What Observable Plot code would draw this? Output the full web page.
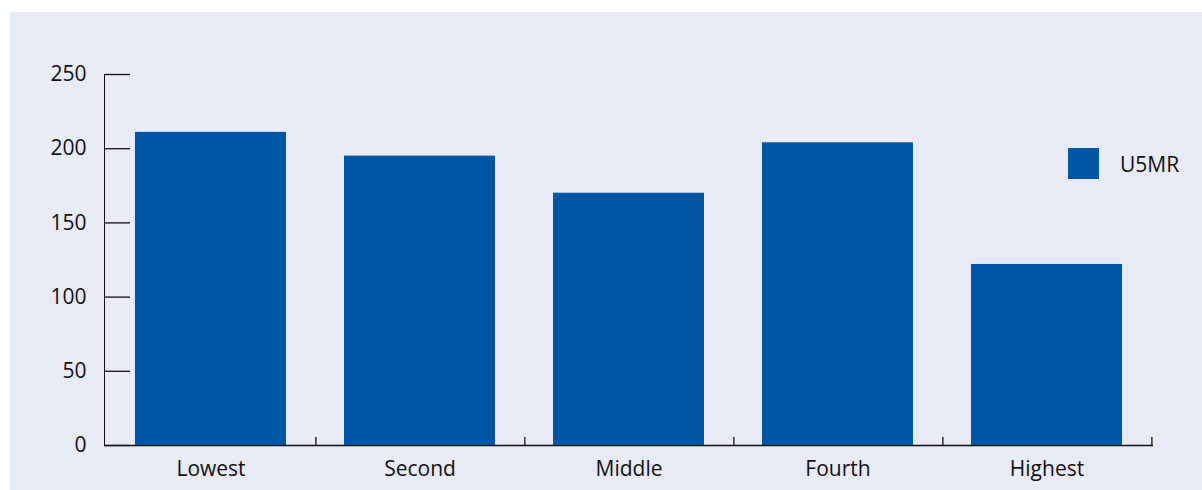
<!DOCTYPE html>
<html>
<head>
<meta charset="utf-8">
<script src="https://cdn.jsdelivr.net/npm/d3@7"></script>
<script src="https://cdn.jsdelivr.net/npm/@observablehq/plot@0.6"></script>
<style>
  html, body { margin: 0; padding: 0; background: #ffffff; }
  #panel { position: absolute; left: 10px; top: 12px; width: 1192px; height: 478px; background: #e8eaf6; }
  #legend { position: absolute; left: 1058px; top: 136px; display: flex; align-items: center;
            font-family: "Open Sans", sans-serif; font-size: 21px; color: #111; }
  #legend .sw { width: 31px; height: 31px; background: #0055a4; margin-right: 21px; }
</style>
</head>
<body>
<div id="panel"><div id="chart"></div><div id="legend"><div class="sw"></div><span id="legtext"></span></div></div>
<script>
const categories = ["Lowest", "Second", "Middle", "Fourth", "Highest"];
const u5mr = [211, 195, 170, 204, 122];
const yTicks = [0, 50, 100, 150, 200, 250];
const seriesName = "U5MR";

document.getElementById("legtext").textContent = seriesName;

const data = categories.map((c, i) => ({quintile: c, value: u5mr[i]}));

const width = 1192, height = 478;
const marginLeft = 94, marginRight = 49, marginTop = 62, marginBottom = 45;
const plotW = width - marginLeft - marginRight;
const step = plotW / categories.length;

const chart = Plot.plot({
  width, height, marginLeft, marginRight, marginTop, marginBottom,
  style: {background: "transparent", fontFamily: "Open Sans, sans-serif", fontSize: "21px", color: "#111"},
  x: {domain: categories, paddingInner: 0.276, paddingOuter: 0.138, label: null, tickSize: 0, tickPadding: 16},
  y: {domain: [0, 250], ticks: yTicks, label: null, tickSize: 0, tickPadding: 18, line: true},
  marks: [
    Plot.ruleY([0], {stroke: "#111", strokeWidth: 1.3}),
    Plot.ruleY(yTicks, {y: d => d, stroke: "#111", strokeWidth: 1.3, insetRight: plotW - 26}),
    Plot.ruleX(categories, {x: d => d, y1: 0, y2: 5.4, dx: step / 2, stroke: "#111", strokeWidth: 1.3}),
    Plot.barY(data, {x: "quintile", y: "value", fill: "#0055a4"})
  ]
});
document.getElementById("chart").appendChild(chart);
</script>
</body>
</html>
